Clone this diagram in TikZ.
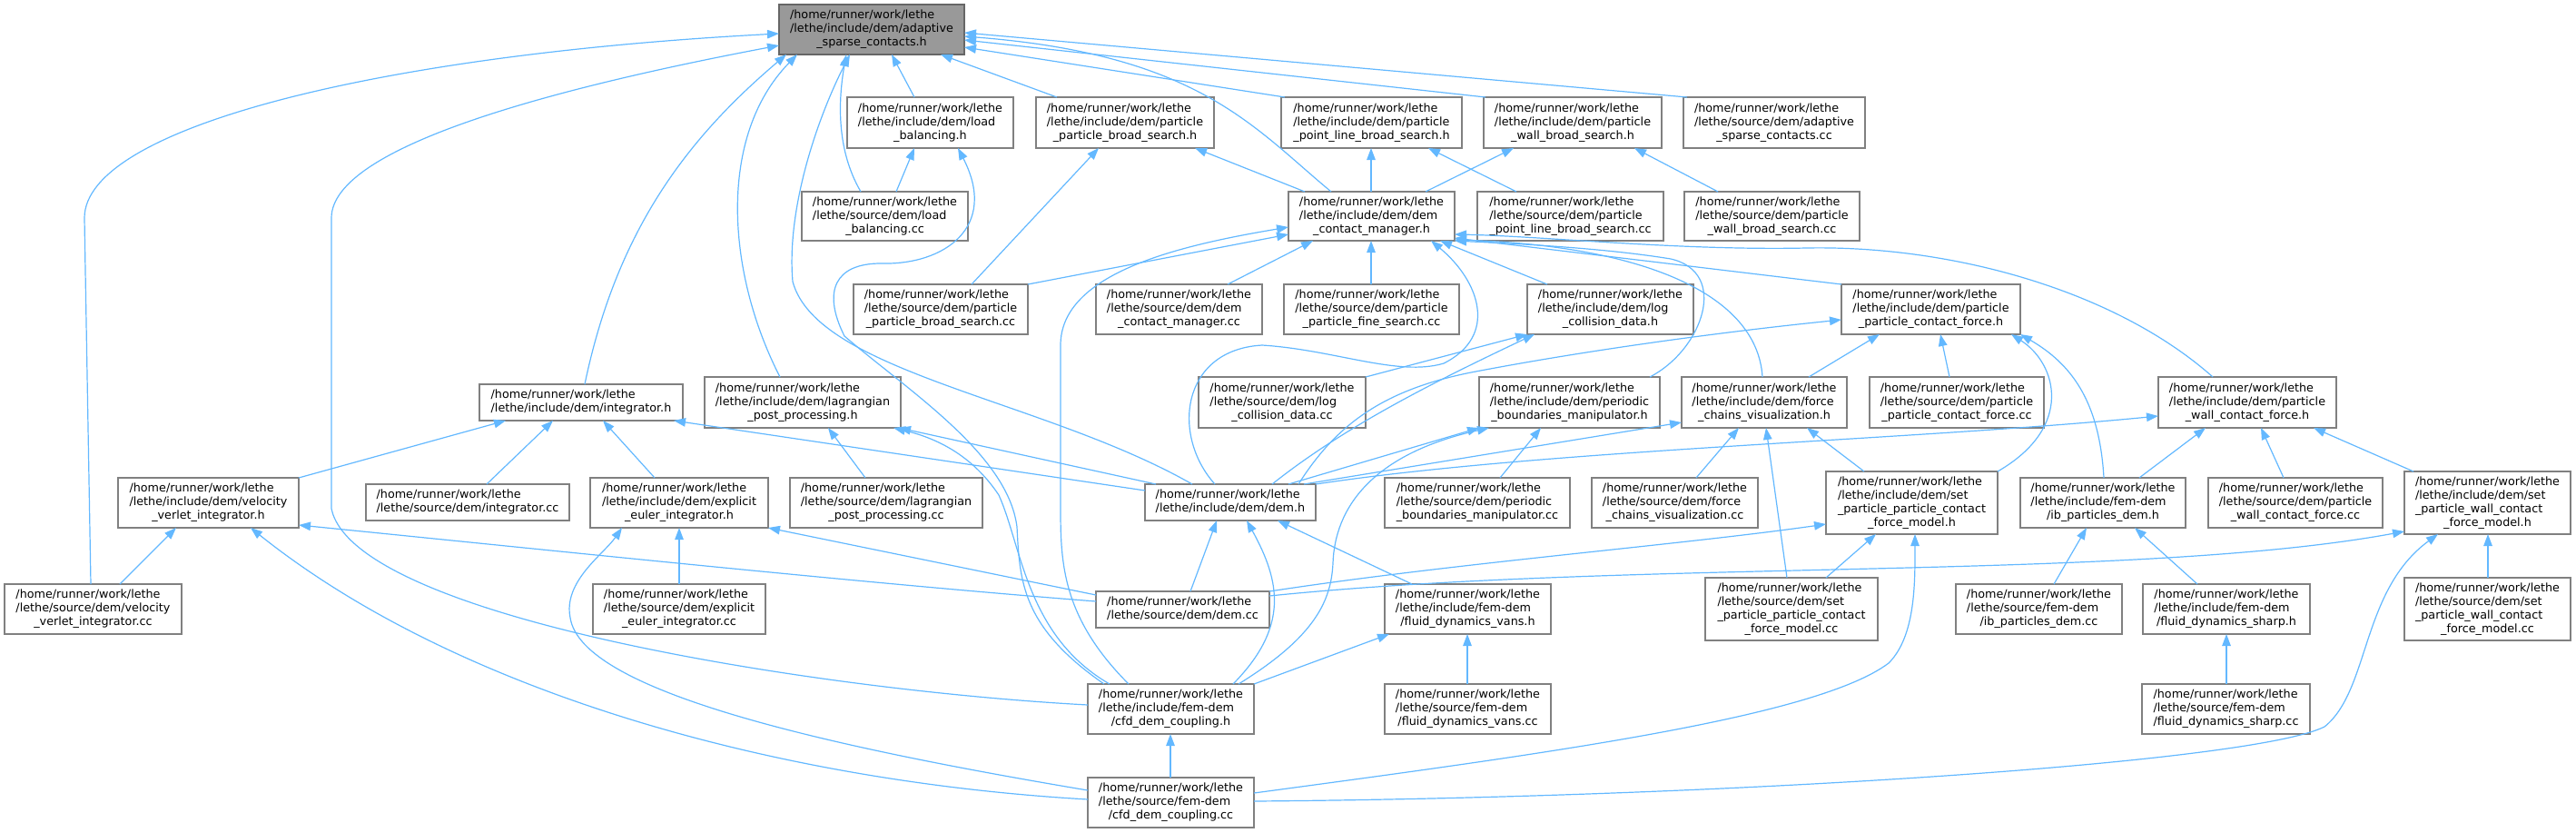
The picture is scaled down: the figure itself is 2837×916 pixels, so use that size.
\documentclass[tikz,border=0pt]{standalone}
\usepackage{fontspec}
\setmainfont{DejaVu Sans}
\usetikzlibrary{arrows.meta}
\definecolor{edgec}{HTML}{63B8FF}
\definecolor{boxc}{HTML}{808080}
\definecolor{rootfill}{HTML}{999999}
\definecolor{rootdraw}{HTML}{666666}
\newcommand{\Ltwo}[1]{\begin{tabular}{@{}l@{}}/home/runner/work/lethe\\\multicolumn{1}{@{}c@{}}{#1}\end{tabular}}
\newcommand{\Lthree}[2]{\begin{tabular}{@{}l@{}}/home/runner/work/lethe\\#1\\\multicolumn{1}{@{}c@{}}{#2}\end{tabular}}
\newcommand{\Lfour}[3]{\begin{tabular}{@{}l@{}}/home/runner/work/lethe\\#1\\#2\\\multicolumn{1}{@{}c@{}}{#3}\end{tabular}}
\newcommand{\nd}[7][]{\node[box,#1,minimum width={#4pt-#3pt},minimum height={#6pt-#5pt}] (#2) at ({(#3+#4)/2},{(#5+#6)/2}) {#7};}
\tikzset{
  box/.style={draw=boxc,line width=1.4pt,fill=white,inner sep=0pt,outer sep=0pt,
    font=\fontsize{12.75}{15}\selectfont,text=black},
  rootbox/.style={fill=rootfill,draw=rootdraw},
  e/.style={draw=edgec,line width=1.2pt,-{Triangle[length=13pt,width=9.5pt]}}
}
\begin{document}
\begin{tikzpicture}[x=1pt,y=-1pt]
\useasboundingbox (0,0) rectangle (2837,916);
% rank 0
\nd[rootbox]{gray}{858}{1062}{5}{60}{\Lthree{/lethe/include/dem/adaptive}{\_sparse\_contacts.h}}
% rank 1
\nd{lbh}{933}{1116}{107}{163}{\Lthree{/lethe/include/dem/load}{\_balancing.h}}
\nd{ppbsh}{1141}{1337}{107}{163}{\Lthree{/lethe/include/dem/particle}{\_particle\_broad\_search.h}}
\nd{plbsh}{1411}{1610}{107}{163}{\Lthree{/lethe/include/dem/particle}{\_point\_line\_broad\_search.h}}
\nd{wbsh}{1634}{1830}{107}{163}{\Lthree{/lethe/include/dem/particle}{\_wall\_broad\_search.h}}
\nd{ascc}{1854}{2054}{107}{163}{\Lthree{/lethe/source/dem/adaptive}{\_sparse\_contacts.cc}}
% rank 2
\nd{lbcc}{883}{1066}{211}{265}{\Lthree{/lethe/source/dem/load}{\_balancing.cc}}
\nd{dcmh}{1419}{1602}{211}{265}{\Lthree{/lethe/include/dem/dem}{\_contact\_manager.h}}
\nd{plbscc}{1627}{1832}{211}{265}{\Lthree{/lethe/source/dem/particle}{\_point\_line\_broad\_search.cc}}
\nd{wbscc}{1855}{2048}{211}{265}{\Lthree{/lethe/source/dem/particle}{\_wall\_broad\_search.cc}}
% rank 3
\nd{ppbscc}{940}{1132}{313}{368}{\Lthree{/lethe/source/dem/particle}{\_particle\_broad\_search.cc}}
\nd{dcmcc}{1207}{1390}{313}{368}{\Lthree{/lethe/source/dem/dem}{\_contact\_manager.cc}}
\nd{pfscc}{1414}{1607}{313}{368}{\Lthree{/lethe/source/dem/particle}{\_particle\_fine\_search.cc}}
\nd{lcdh}{1682}{1865}{313}{368}{\Lthree{/lethe/include/dem/log}{\_collision\_data.h}}
\nd{ppcfh}{2028}{2225}{313}{368}{\Lthree{/lethe/include/dem/particle}{\_particle\_contact\_force.h}}
% rank 4
\nd{integh}{528}{752}{423}{463}{\Ltwo{/lethe/include/dem/integrator.h}}
\nd{lpph}{776}{992}{415}{471}{\Lthree{/lethe/include/dem/lagrangian}{\_post\_processing.h}}
\nd{lcdcc}{1320}{1504}{415}{471}{\Lthree{/lethe/source/dem/log}{\_collision\_data.cc}}
\nd{pbmh}{1629}{1828}{415}{471}{\Lthree{/lethe/include/dem/periodic}{\_boundaries\_manipulator.h}}
\nd{fcvh}{1852}{2034}{415}{471}{\Lthree{/lethe/include/dem/force}{\_chains\_visualization.h}}
\nd{ppcfcc}{2059}{2251}{415}{471}{\Lthree{/lethe/source/dem/particle}{\_particle\_contact\_force.cc}}
\nd{pwcfh}{2377}{2573}{415}{471}{\Lthree{/lethe/include/dem/particle}{\_wall\_contact\_force.h}}
% rank 5
\nd{vvih}{130}{329}{526}{581}{\Lthree{/lethe/include/dem/velocity}{\_verlet\_integrator.h}}
\nd{integcc}{403}{627}{533}{573}{\Ltwo{/lethe/source/dem/integrator.cc}}
\nd{eeih}{650}{846}{526}{581}{\Lthree{/lethe/include/dem/explicit}{\_euler\_integrator.h}}
\nd{lppcc}{870}{1082}{526}{581}{\Lthree{/lethe/source/dem/lagrangian}{\_post\_processing.cc}}
\nd{demh}{1261}{1449}{533}{573}{\Ltwo{/lethe/include/dem/dem.h}}
\nd{pbmcc}{1525}{1729}{526}{581}{\Lthree{/lethe/source/dem/periodic}{\_boundaries\_manipulator.cc}}
\nd{fcvcc}{1753}{1936}{526}{581}{\Lthree{/lethe/source/dem/force}{\_chains\_visualization.cc}}
\nd{sppcfmh}{2011}{2200}{519}{588}{\Lfour{/lethe/include/dem/set}{\_particle\_particle\_contact}{\_force\_model.h}}
\nd{ibh}{2225}{2407}{526}{581}{\Lthree{/lethe/include/fem-dem}{/ib\_particles\_dem.h}}
\nd{pwcfcc}{2432}{2624}{526}{581}{\Lthree{/lethe/source/dem/particle}{\_wall\_contact\_force.cc}}
\nd{spwcfmh}{2648}{2831}{519}{588}{\Lfour{/lethe/include/dem/set}{\_particle\_wall\_contact}{\_force\_model.h}}
% rank 6
\nd{vvicc}{5}{200}{643}{698}{\Lthree{/lethe/source/dem/velocity}{\_verlet\_integrator.cc}}
\nd{eeicc}{653}{843}{643}{698}{\Lthree{/lethe/source/dem/explicit}{\_euler\_integrator.cc}}
\nd{demcc}{1207}{1398}{651}{691}{\Ltwo{/lethe/source/dem/dem.cc}}
\nd{fdvh}{1525}{1708}{643}{698}{\Lthree{/lethe/include/fem-dem}{/fluid\_dynamics\_vans.h}}
\nd{sppcfmcc}{1878}{2068}{636}{705}{\Lfour{/lethe/source/dem/set}{\_particle\_particle\_contact}{\_force\_model.cc}}
\nd{ibcc}{2154}{2337}{643}{698}{\Lthree{/lethe/source/fem-dem}{/ib\_particles\_dem.cc}}
\nd{fdsh}{2360}{2544}{643}{698}{\Lthree{/lethe/include/fem-dem}{/fluid\_dynamics\_sharp.h}}
\nd{spwcfmcc}{2648}{2831}{636}{705}{\Lfour{/lethe/source/dem/set}{\_particle\_wall\_contact}{\_force\_model.cc}}
% rank 7
\nd{cfdh}{1198}{1381}{753}{808}{\Lthree{/lethe/include/fem-dem}{/cfd\_dem\_coupling.h}}
\nd{fdvcc}{1525}{1708}{753}{808}{\Lthree{/lethe/source/fem-dem}{/fluid\_dynamics\_vans.cc}}
\nd{fdscc}{2359}{2544}{753}{808}{\Lthree{/lethe/source/fem-dem}{/fluid\_dynamics\_sharp.cc}}
% rank 8
\nd{cfdcc}{1198}{1381}{856}{911}{\Lthree{/lethe/source/fem-dem}{/cfd\_dem\_coupling.cc}}

% ---- edges into adaptive_sparse_contacts.h
\draw[e] (vvicc.north -| 100,0) -- (93,240) .. controls (93,140) and (420,60) .. (gray.west |- 0,37);
\draw[e] (cfdh.west |- 0,776) .. controls (900,760) and (390,680) .. (365,560) -- (365,240) .. controls (365,160) and (620,95) .. (gray.west |- 0,50);
\draw[e] (integh.north -| 644,0) .. controls (680,250) and (760,150) .. (gray.south -| 866,0);
\draw[e] (lpph.north -| 859,0) .. controls (800,300) and (790,150) .. (gray.south -| 878,0);
\draw[e] (demh.north -| 1313,0) .. controls (1150,440) and (900,410) .. (873,310) .. controls (866,230) and (900,130) .. (gray.south -| 936,0);
\draw[e] (lbcc.north -| 948,0) .. controls (918,160) and (925,100) .. (gray.south -| 932,0);
\draw[e] (lbh.north -| 1007,0) -- (gray.south -| 982,0);
\draw[e] (ppbsh.north -| 1164,0) -- (gray.south -| 1036,0);
\draw[e] (dcmh.north -| 1466,0) .. controls (1380,140) and (1320,60) .. (gray.east |- 0,40);
\draw[e] (plbsh.north -| 1415,0) -- (gray.east |- 0,52);
\draw[e] (wbsh.north -| 1636,0) -- (gray.east |- 0,44);
\draw[e] (ascc.north -| 1858,0) -- (gray.east |- 0,36);
% ---- load_balancing.h
\draw[e] (lbcc.north -| 987,0) -- (lbh.south -| 1007,0);
\draw[e] (cfdh.north -| 1216,0) .. controls (1125,690) and (1123,640) .. (1120,580) .. controls (1110,500) and (1000,430) .. (930,370) .. controls (905,320) and (920,290) .. (970,290) .. controls (1040,292) and (1100,250) .. (lbh.south -| 1055,0);
% ---- broad searches
\draw[e] (dcmh.north -| 1437,0) -- (ppbsh.south -| 1316,0);
\draw[e] (ppbscc.north -| 1070,0) -- (ppbsh.south -| 1210,0);
\draw[e] (dcmh.north -| 1510,0) -- (plbsh.south -| 1510,0);
\draw[e] (plbscc.north -| 1670,0) -- (plbsh.south -| 1573,0);
\draw[e] (dcmh.north -| 1570,0) -- (wbsh.south -| 1667,0);
\draw[e] (wbscc.north -| 1892,0) -- (wbsh.south -| 1800,0);
% ---- dem_contact_manager.h
\draw[e] (ppbscc.north east) -- (dcmh.west |- 0,258);
\draw[e] (cfdh.north -| 1243,0) .. controls (1170,680) and (1168,620) .. (1168,560) -- (1168,380) .. controls (1168,300) and (1300,270) .. (dcmh.west |- 0,250);
\draw[e] (dcmcc.north -| 1352,0) -- (dcmh.south -| 1446,0);
\draw[e] (pfscc.north -| 1510,0) -- (dcmh.south -| 1510,0);
\draw[e] (demh.north -| 1338,0) .. controls (1290,480) and (1300,385) .. (1390,380) .. controls (1470,385) and (1540,415) .. (1590,400) .. controls (1650,370) and (1630,310) .. (dcmh.south -| 1576,0);
\draw[e] (lcdh.north -| 1704,0) -- (dcmh.south -| 1586,0);
\draw[e] (pbmh.north -| 1817,0) .. controls (1875,385) and (1905,300) .. (1840,285) .. controls (1760,272) and (1660,268) .. (dcmh.south east);
\draw[e] (fcvh.north -| 1941,0) .. controls (1935,320) and (1800,270) .. (dcmh.east |- 0,264);
\draw[e] (ppcfh.north west) -- (dcmh.east |- 0,262);
\draw[e] (pwcfh.north -| 2437,0) .. controls (2330,320) and (2150,270) .. (1990,273) .. controls (1850,276) and (1700,260) .. (dcmh.east |- 0,258);
% ---- log_collision_data.h
\draw[e] (lcdcc.north east) -- (lcdh.south west);
\draw[e] (demh.north -| 1401,0) .. controls (1480,470) and (1580,420) .. (lcdh.south -| 1690,0);
% ---- periodic
\draw[e] (pbmcc.north -| 1652,0) -- (pbmh.south -| 1697,0);
\draw[e] (demh.north -| 1419,0) -- (pbmh.south west);
\draw[e] (cfdh.north -| 1364,0) .. controls (1450,700) and (1466,660) .. (1468,620) .. controls (1470,560) and (1510,500) .. (pbmh.south -| 1640,0);
% ---- particle_particle_contact_force.h
\draw[e] (fcvh.north -| 1992,0) -- (ppcfh.south -| 2070,0);
\draw[e] (ppcfcc.north -| 2147,0) -- (ppcfh.south -| 2137,0);
\draw[e] (sppcfmh.north east) .. controls (2285,470) and (2265,400) .. (ppcfh.south -| 2215,0);
\draw[e] (ibh.north -| 2317,0) .. controls (2312,440) and (2280,400) .. (ppcfh.south east);
\draw[e] (demh.north -| 1430,0) .. controls (1470,470) and (1520,430) .. (1620,410) .. controls (1750,385) and (1900,365) .. (ppcfh.west |- 0,352);
% ---- force chains
\draw[e] (fcvcc.north -| 1868,0) -- (fcvh.south -| 1915,0);
\draw[e] (sppcfmh.north -| 2053,0) -- (fcvh.south -| 1990,0);
\draw[e] (sppcfmcc.north -| 1968,0) -- (fcvh.south -| 1945,0);
\draw[e] (demh.north -| 1436,0) -- (fcvh.west |- 0,465);
% ---- particle_wall_contact_force.h
\draw[e] (demh.north east) .. controls (1700,495) and (2100,485) .. (pwcfh.west |- 0,458);
\draw[e] (ibh.north -| 2356,0) -- (pwcfh.south -| 2429,0);
\draw[e] (pwcfcc.north -| 2515,0) -- (pwcfh.south -| 2490,0);
\draw[e] (spwcfmh.north -| 2658,0) -- (pwcfh.south -| 2548,0);
% ---- set_particle_particle_contact_force_model.h
\draw[e] (sppcfmcc.north -| 2011,0) -- (sppcfmh.south -| 2066,0);
\draw[e] (cfdcc.east |- 0,873) .. controls (1700,830) and (2000,790) .. (2080,730) .. controls (2110,700) and (2109,640) .. (sppcfmh.south -| 2109,0);
\draw[e] (demcc.north east) .. controls (1600,620) and (1850,600) .. (sppcfmh.west |- 0,577);
% ---- set_particle_wall_contact_force_model.h
\draw[e] (spwcfmcc.north -| 2740,0) -- (spwcfmh.south -| 2740,0);
\draw[e] (cfdcc.east |- 0,882) .. controls (1900,878) and (2480,840) .. (2560,800) .. controls (2610,760) and (2600,650) .. (spwcfmh.south -| 2685,0);
\draw[e] (demcc.east |- 0,656) .. controls (1800,615) and (2350,640) .. (spwcfmh.west |- 0,585);
% ---- ib / sharp
\draw[e] (ibcc.north -| 2262,0) -- (ibh.south -| 2298,0);
\draw[e] (fdsh.north -| 2420,0) -- (ibh.south -| 2351,0);
\draw[e] (fdscc.north -| 2452,0) -- (fdsh.south -| 2452,0);
% ---- integrators
\draw[e] (vvicc.north -| 132,0) -- (vvih.south -| 194,0);
\draw[e] (cfdcc.west |- 0,880) .. controls (850,860) and (500,760) .. (vvih.south -| 276,0);
\draw[e] (demcc.west |- 0,662) .. controls (950,642) and (600,605) .. (vvih.east |- 0,578);
\draw[e] (eeicc.north -| 748,0) -- (eeih.south -| 748,0);
\draw[e] (cfdcc.west |- 0,870) .. controls (900,820) and (640,760) .. (628,680) .. controls (620,640) and (665,610) .. (eeih.south -| 685,0);
\draw[e] (demcc.west |- 0,655) -- (eeih.south east);
\draw[e] (vvih.north east) -- (integh.south -| 557,0);
\draw[e] (integcc.north -| 536,0) -- (integh.south -| 609,0);
\draw[e] (eeih.north -| 721,0) -- (integh.south -| 664,0);
\draw[e] (demh.west |- 0,540) -- (integh.south -| 742,0);
% ---- lagrangian
\draw[e] (lppcc.north -| 953,0) -- (lpph.south -| 912,0);
\draw[e] (demh.north -| 1273,0) -- (lpph.south -| 990,0);
\draw[e] (cfdh.north -| 1222,0) .. controls (1130,700) and (1125,600) .. (1100,545) .. controls (1070,500) and (1030,482) .. (lpph.south -| 984,0);
% ---- dem.h
\draw[e] (demcc.north -| 1311,0) -- (demh.south -| 1340,0);
\draw[e] (cfdh.north -| 1358,0) .. controls (1420,690) and (1410,640) .. (demh.south -| 1373,0);
\draw[e] (fdvh.north -| 1555,0) -- (demh.south -| 1407,0);
% ---- vans / cfd
\draw[e] (fdvcc.north -| 1616,0) -- (fdvh.south -| 1616,0);
\draw[e] (cfdh.north east) -- (fdvh.south -| 1530,0);
\draw[e] (cfdcc.north -| 1289,0) -- (cfdh.south -| 1289,0);
\end{tikzpicture}
\end{document}
